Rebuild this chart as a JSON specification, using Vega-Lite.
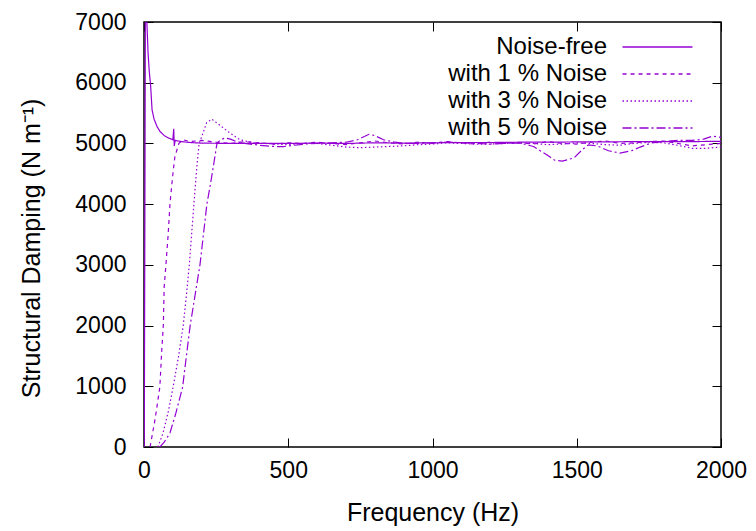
{
  "$schema": "https://vega.github.io/schema/vega-lite/v6.json",
  "width": 577,
  "height": 425,
  "autosize": "none",
  "padding": {"left": 144, "top": 22, "right": 35, "bottom": 84},
  "background": "#ffffff",
  "config": {
    "view": {"stroke": "#000000", "strokeWidth": 1.5},
    "font": "Liberation Sans",
    "axis": {
      "domain": false, "grid": false, "ticks": true, "tickSize": -9, "tickColor": "#000000", "tickWidth": 1,
      "labelFont": "Liberation Sans", "labelFontSize": 23, "labelColor": "#000000", "labelFlush": false, "labelOverlap": false,
      "titleFont": "Liberation Sans", "titleFontSize": 25, "titleFontWeight": "normal", "titleColor": "#000000"
    }
  },
  "data": {"values": [
    {"s": "Noise-free", "f": 1, "d": 0},
    {"s": "Noise-free", "f": 6, "d": 9500},
    {"s": "Noise-free", "f": 10, "d": 7000},
    {"s": "Noise-free", "f": 14, "d": 6500},
    {"s": "Noise-free", "f": 18, "d": 6200},
    {"s": "Noise-free", "f": 23, "d": 5950},
    {"s": "Noise-free", "f": 28, "d": 5550},
    {"s": "Noise-free", "f": 35, "d": 5400},
    {"s": "Noise-free", "f": 45, "d": 5280},
    {"s": "Noise-free", "f": 55, "d": 5200},
    {"s": "Noise-free", "f": 70, "d": 5130},
    {"s": "Noise-free", "f": 85, "d": 5090},
    {"s": "Noise-free", "f": 100, "d": 5060},
    {"s": "Noise-free", "f": 103, "d": 5240},
    {"s": "Noise-free", "f": 105, "d": 4960},
    {"s": "Noise-free", "f": 108, "d": 5050},
    {"s": "Noise-free", "f": 130, "d": 5030},
    {"s": "Noise-free", "f": 160, "d": 5015},
    {"s": "Noise-free", "f": 200, "d": 5005},
    {"s": "Noise-free", "f": 300, "d": 5000},
    {"s": "Noise-free", "f": 400, "d": 5000},
    {"s": "Noise-free", "f": 500, "d": 5000},
    {"s": "Noise-free", "f": 600, "d": 5005},
    {"s": "Noise-free", "f": 700, "d": 5000},
    {"s": "Noise-free", "f": 800, "d": 5010},
    {"s": "Noise-free", "f": 900, "d": 5005},
    {"s": "Noise-free", "f": 1000, "d": 5010},
    {"s": "Noise-free", "f": 1100, "d": 5015},
    {"s": "Noise-free", "f": 1200, "d": 5015},
    {"s": "Noise-free", "f": 1300, "d": 5020},
    {"s": "Noise-free", "f": 1400, "d": 5020},
    {"s": "Noise-free", "f": 1500, "d": 5025},
    {"s": "Noise-free", "f": 1600, "d": 5025},
    {"s": "Noise-free", "f": 1700, "d": 5030},
    {"s": "Noise-free", "f": 1800, "d": 5030},
    {"s": "Noise-free", "f": 1900, "d": 5030},
    {"s": "Noise-free", "f": 2000, "d": 5035},

    {"s": "with 1 % Noise", "f": 21, "d": 0},
    {"s": "with 1 % Noise", "f": 38, "d": 445},
    {"s": "with 1 % Noise", "f": 55, "d": 990},
    {"s": "with 1 % Noise", "f": 61, "d": 1550},
    {"s": "with 1 % Noise", "f": 67, "d": 2010},
    {"s": "with 1 % Noise", "f": 70, "d": 2640},
    {"s": "with 1 % Noise", "f": 76, "d": 3000},
    {"s": "with 1 % Noise", "f": 84, "d": 3520},
    {"s": "with 1 % Noise", "f": 90, "d": 4000},
    {"s": "with 1 % Noise", "f": 99, "d": 4450},
    {"s": "with 1 % Noise", "f": 107, "d": 4780},
    {"s": "with 1 % Noise", "f": 121, "d": 5000},
    {"s": "with 1 % Noise", "f": 135, "d": 5060},
    {"s": "with 1 % Noise", "f": 160, "d": 5030},
    {"s": "with 1 % Noise", "f": 200, "d": 5050},
    {"s": "with 1 % Noise", "f": 250, "d": 5020},
    {"s": "with 1 % Noise", "f": 300, "d": 5000},
    {"s": "with 1 % Noise", "f": 350, "d": 5030},
    {"s": "with 1 % Noise", "f": 400, "d": 5010},
    {"s": "with 1 % Noise", "f": 450, "d": 4990},
    {"s": "with 1 % Noise", "f": 500, "d": 5010},
    {"s": "with 1 % Noise", "f": 550, "d": 5000},
    {"s": "with 1 % Noise", "f": 600, "d": 5020},
    {"s": "with 1 % Noise", "f": 650, "d": 5000},
    {"s": "with 1 % Noise", "f": 700, "d": 4980},
    {"s": "with 1 % Noise", "f": 750, "d": 5010},
    {"s": "with 1 % Noise", "f": 800, "d": 5040},
    {"s": "with 1 % Noise", "f": 850, "d": 5010},
    {"s": "with 1 % Noise", "f": 900, "d": 4990},
    {"s": "with 1 % Noise", "f": 950, "d": 5020},
    {"s": "with 1 % Noise", "f": 1000, "d": 5000},
    {"s": "with 1 % Noise", "f": 1050, "d": 5030},
    {"s": "with 1 % Noise", "f": 1100, "d": 5010},
    {"s": "with 1 % Noise", "f": 1150, "d": 4990},
    {"s": "with 1 % Noise", "f": 1200, "d": 5020},
    {"s": "with 1 % Noise", "f": 1250, "d": 5000},
    {"s": "with 1 % Noise", "f": 1300, "d": 5010},
    {"s": "with 1 % Noise", "f": 1350, "d": 4990},
    {"s": "with 1 % Noise", "f": 1400, "d": 5030},
    {"s": "with 1 % Noise", "f": 1450, "d": 5000},
    {"s": "with 1 % Noise", "f": 1500, "d": 4990},
    {"s": "with 1 % Noise", "f": 1550, "d": 5020},
    {"s": "with 1 % Noise", "f": 1600, "d": 5040},
    {"s": "with 1 % Noise", "f": 1650, "d": 5000},
    {"s": "with 1 % Noise", "f": 1700, "d": 5010},
    {"s": "with 1 % Noise", "f": 1750, "d": 5030},
    {"s": "with 1 % Noise", "f": 1800, "d": 5040},
    {"s": "with 1 % Noise", "f": 1850, "d": 5000},
    {"s": "with 1 % Noise", "f": 1900, "d": 4960},
    {"s": "with 1 % Noise", "f": 1950, "d": 4980},
    {"s": "with 1 % Noise", "f": 2000, "d": 5000},

    {"s": "with 3 % Noise", "f": 48, "d": 0},
    {"s": "with 3 % Noise", "f": 66, "d": 230},
    {"s": "with 3 % Noise", "f": 85, "d": 600},
    {"s": "with 3 % Noise", "f": 101, "d": 990},
    {"s": "with 3 % Noise", "f": 120, "d": 1500},
    {"s": "with 3 % Noise", "f": 136, "d": 2000},
    {"s": "with 3 % Noise", "f": 147, "d": 2500},
    {"s": "with 3 % Noise", "f": 157, "d": 3000},
    {"s": "with 3 % Noise", "f": 165, "d": 3500},
    {"s": "with 3 % Noise", "f": 173, "d": 4000},
    {"s": "with 3 % Noise", "f": 183, "d": 4610},
    {"s": "with 3 % Noise", "f": 191, "d": 5000},
    {"s": "with 3 % Noise", "f": 200, "d": 5110},
    {"s": "with 3 % Noise", "f": 217, "d": 5340},
    {"s": "with 3 % Noise", "f": 235, "d": 5400},
    {"s": "with 3 % Noise", "f": 263, "d": 5300},
    {"s": "with 3 % Noise", "f": 298, "d": 5170},
    {"s": "with 3 % Noise", "f": 333, "d": 5060},
    {"s": "with 3 % Noise", "f": 380, "d": 5010},
    {"s": "with 3 % Noise", "f": 450, "d": 4990},
    {"s": "with 3 % Noise", "f": 500, "d": 4980},
    {"s": "with 3 % Noise", "f": 550, "d": 5000},
    {"s": "with 3 % Noise", "f": 600, "d": 5000},
    {"s": "with 3 % Noise", "f": 650, "d": 4970},
    {"s": "with 3 % Noise", "f": 700, "d": 4940},
    {"s": "with 3 % Noise", "f": 750, "d": 4930},
    {"s": "with 3 % Noise", "f": 800, "d": 4940},
    {"s": "with 3 % Noise", "f": 850, "d": 4950},
    {"s": "with 3 % Noise", "f": 900, "d": 4960},
    {"s": "with 3 % Noise", "f": 950, "d": 4980},
    {"s": "with 3 % Noise", "f": 1000, "d": 4990},
    {"s": "with 3 % Noise", "f": 1050, "d": 5010},
    {"s": "with 3 % Noise", "f": 1100, "d": 5000},
    {"s": "with 3 % Noise", "f": 1150, "d": 4990},
    {"s": "with 3 % Noise", "f": 1200, "d": 4990},
    {"s": "with 3 % Noise", "f": 1250, "d": 5000},
    {"s": "with 3 % Noise", "f": 1300, "d": 5010},
    {"s": "with 3 % Noise", "f": 1350, "d": 5000},
    {"s": "with 3 % Noise", "f": 1400, "d": 4980},
    {"s": "with 3 % Noise", "f": 1450, "d": 4990},
    {"s": "with 3 % Noise", "f": 1500, "d": 5010},
    {"s": "with 3 % Noise", "f": 1550, "d": 5000},
    {"s": "with 3 % Noise", "f": 1600, "d": 4980},
    {"s": "with 3 % Noise", "f": 1650, "d": 4970},
    {"s": "with 3 % Noise", "f": 1700, "d": 5000},
    {"s": "with 3 % Noise", "f": 1750, "d": 5020},
    {"s": "with 3 % Noise", "f": 1800, "d": 5010},
    {"s": "with 3 % Noise", "f": 1850, "d": 4970},
    {"s": "with 3 % Noise", "f": 1900, "d": 4920},
    {"s": "with 3 % Noise", "f": 1950, "d": 4920},
    {"s": "with 3 % Noise", "f": 2000, "d": 4940},

    {"s": "with 5 % Noise", "f": 55, "d": 0},
    {"s": "with 5 % Noise", "f": 70, "d": 80},
    {"s": "with 5 % Noise", "f": 90, "d": 230},
    {"s": "with 5 % Noise", "f": 110, "d": 550},
    {"s": "with 5 % Noise", "f": 134, "d": 990},
    {"s": "with 5 % Noise", "f": 147, "d": 1500},
    {"s": "with 5 % Noise", "f": 160, "d": 2000},
    {"s": "with 5 % Noise", "f": 177, "d": 2500},
    {"s": "with 5 % Noise", "f": 194, "d": 3000},
    {"s": "with 5 % Noise", "f": 206, "d": 3500},
    {"s": "with 5 % Noise", "f": 218, "d": 4000},
    {"s": "with 5 % Noise", "f": 230, "d": 4320},
    {"s": "with 5 % Noise", "f": 240, "d": 4610},
    {"s": "with 5 % Noise", "f": 253, "d": 5000},
    {"s": "with 5 % Noise", "f": 265, "d": 5060},
    {"s": "with 5 % Noise", "f": 281, "d": 5090},
    {"s": "with 5 % Noise", "f": 300, "d": 5070},
    {"s": "with 5 % Noise", "f": 320, "d": 5030},
    {"s": "with 5 % Noise", "f": 350, "d": 5000},
    {"s": "with 5 % Noise", "f": 400, "d": 4970},
    {"s": "with 5 % Noise", "f": 450, "d": 4950},
    {"s": "with 5 % Noise", "f": 482, "d": 4947},
    {"s": "with 5 % Noise", "f": 520, "d": 4970},
    {"s": "with 5 % Noise", "f": 560, "d": 4990},
    {"s": "with 5 % Noise", "f": 600, "d": 5000},
    {"s": "with 5 % Noise", "f": 650, "d": 5010},
    {"s": "with 5 % Noise", "f": 700, "d": 5020},
    {"s": "with 5 % Noise", "f": 740, "d": 5060},
    {"s": "with 5 % Noise", "f": 780, "d": 5150},
    {"s": "with 5 % Noise", "f": 800, "d": 5130},
    {"s": "with 5 % Noise", "f": 830, "d": 5060},
    {"s": "with 5 % Noise", "f": 870, "d": 5020},
    {"s": "with 5 % Noise", "f": 900, "d": 5000},
    {"s": "with 5 % Noise", "f": 950, "d": 5000},
    {"s": "with 5 % Noise", "f": 1000, "d": 5010},
    {"s": "with 5 % Noise", "f": 1050, "d": 5020},
    {"s": "with 5 % Noise", "f": 1100, "d": 5010},
    {"s": "with 5 % Noise", "f": 1150, "d": 5000},
    {"s": "with 5 % Noise", "f": 1200, "d": 4990},
    {"s": "with 5 % Noise", "f": 1250, "d": 5000},
    {"s": "with 5 % Noise", "f": 1300, "d": 5010},
    {"s": "with 5 % Noise", "f": 1350, "d": 4950},
    {"s": "with 5 % Noise", "f": 1400, "d": 4800},
    {"s": "with 5 % Noise", "f": 1425, "d": 4720},
    {"s": "with 5 % Noise", "f": 1450, "d": 4710},
    {"s": "with 5 % Noise", "f": 1490, "d": 4760},
    {"s": "with 5 % Noise", "f": 1520, "d": 4900},
    {"s": "with 5 % Noise", "f": 1540, "d": 4975},
    {"s": "with 5 % Noise", "f": 1570, "d": 4960},
    {"s": "with 5 % Noise", "f": 1610, "d": 4880},
    {"s": "with 5 % Noise", "f": 1650, "d": 4840},
    {"s": "with 5 % Noise", "f": 1690, "d": 4880},
    {"s": "with 5 % Noise", "f": 1720, "d": 4940},
    {"s": "with 5 % Noise", "f": 1760, "d": 5010},
    {"s": "with 5 % Noise", "f": 1800, "d": 5030},
    {"s": "with 5 % Noise", "f": 1850, "d": 5050},
    {"s": "with 5 % Noise", "f": 1900, "d": 5050},
    {"s": "with 5 % Noise", "f": 1940, "d": 5070},
    {"s": "with 5 % Noise", "f": 1970, "d": 5120},
    {"s": "with 5 % Noise", "f": 2000, "d": 5100}
  ]},
  "layer": [
    {
      "mark": {"type": "line", "color": "#9400D3", "strokeWidth": 1.2, "clip": true},
      "encoding": {
        "x": {"field": "f", "type": "quantitative",
              "scale": {"domain": [0, 2000], "nice": false, "zero": false},
              "axis": {"values": [0, 500, 1000, 1500, 2000], "format": "d", "title": "Frequency (Hz)", "labelPadding": 21, "titlePadding": 18}},
        "y": {"field": "d", "type": "quantitative",
              "scale": {"domain": [0, 7000], "nice": false},
              "axis": {"values": [0, 1000, 2000, 3000, 4000, 5000, 6000, 7000], "format": "d", "title": "Structural Damping (N m⁻¹)", "labelPadding": 27, "titlePadding": 30, "titleY": 226}},
        "strokeDash": {"field": "s", "type": "nominal",
              "scale": {"domain": ["Noise-free", "with 1 % Noise", "with 3 % Noise", "with 5 % Noise"],
                        "range": [[1, 0], [4, 4], [1.5, 2.5], [9, 3, 2, 3]]},
              "legend": {"orient": "none", "legendX": 501, "legendY": 12.5, "title": null,
                         "labelAlign": "right", "labelOffset": -63, "symbolType": "M-3,0L3,0", "symbolSize": 544,
                         "symbolStrokeWidth": 1.3, "symbolStrokeColor": "#9400D3", "symbolFillColor": "transparent", "symbolOpacity": 1,
                         "labelFont": "Liberation Sans", "labelFontSize": 24, "labelColor": "#000000",
                         "labelLimit": 400, "rowPadding": 2, "padding": 0}}
      }
    },
    {
      "mark": {"type": "line", "opacity": 0, "clip": true},
      "encoding": {
        "x": {"field": "f", "type": "quantitative",
              "axis": {"orient": "top", "values": [0, 500, 1000, 1500, 2000], "labels": false, "title": null}},
        "y": {"field": "d", "type": "quantitative",
              "axis": {"orient": "right", "values": [0, 1000, 2000, 3000, 4000, 5000, 6000, 7000], "labels": false, "title": null}},
        "detail": {"field": "s", "type": "nominal"}
      }
    }
  ],
  "resolve": {"axis": {"x": "independent", "y": "independent"}}
}
